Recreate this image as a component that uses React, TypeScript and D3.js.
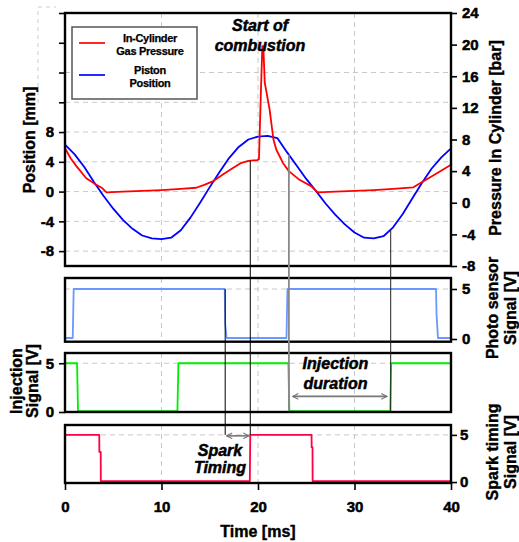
import React, { useEffect, useRef } from 'react';
import * as d3 from 'd3';

// axis ticks
const timeTicks = [0, 10, 20, 30, 40];
const posTicks = [-8, -4, 0, 4, 8, 12, 16, 20, 24];
const presTicks = [-8, -4, 0, 4, 8, 12, 16, 20, 24];
const signalTicks = [0, 5];

// piston position [mm]
const pistonTime = [0, 1, 2, 3, 4, 5, 6, 7, 8, 9, 10, 11, 12, 13, 14, 15, 16, 17, 18, 19, 20,
  21, 22, 23, 24, 25, 26, 27, 28, 29, 30, 31, 32, 33, 34, 35, 36, 37, 38, 39, 40];
const pistonPos = [6.3, 5.0, 3.3, 1.3, -0.6, -2.3, -3.8, -5.0, -5.9, -6.3, -6.4, -6.2, -5.2, -3.5, -1.5,
  0.6, 2.6, 4.5, 6.0, 7.0, 7.4, 7.5, 7.2, 5.3, 3.5, 1.7, 0.1, -1.6, -3.1, -4.4, -5.5, -6.2, -6.3,
  -6.0, -4.8, -3.0, -0.9, 1.2, 3.1, 4.6, 5.8];

// in-cylinder gas pressure [bar]
const pressureTime = [0, 0.6, 1.2, 2.2, 3.2, 3.8, 4.3, 6, 8, 10, 12, 13.6, 14.5, 15.3, 16.4, 17.4, 18.2,
  19.0, 19.9, 20.1, 20.3, 20.45, 20.55, 20.7, 21.2, 21.6, 21.9, 22.6, 23.2, 24.3, 25.5, 26.2, 28, 30,
  32, 34, 36.1, 37.1, 38.5, 40];
const pressureVal = [6.9, 5.6, 4.6, 3.1, 2.3, 1.9, 1.3, 1.4, 1.5, 1.6, 1.75, 1.9, 2.3, 2.7, 3.6, 4.4, 5.0,
  5.3, 5.4, 5.5, 14, 19.8, 19.8, 15.2, 11.8, 8.0, 6.7, 5.0, 4.0, 2.9, 2.1, 1.3, 1.4, 1.5, 1.6, 1.75,
  1.95, 2.7, 3.7, 4.8];

// photo sensor signal [V]
const photoTime = [0, 0.8, 0.9, 16.55, 16.6, 16.75, 22.95, 23.05, 38.45, 38.5, 38.65, 40];
const photoVal = [0.1, 0.1, 5, 5, 1.5, 0.1, 0.1, 5, 5, 2.5, 0.1, 0.1];

// injection signal [V]
const injTime = [0, 1.25, 1.35, 11.65, 11.75, 23.15, 23.25, 33.7, 33.8, 40];
const injVal = [5, 5, 0.1, 0.1, 5, 5, 0.1, 0.1, 5, 5];

// spark timing signal [V]
const sparkTime = [0, 3.55, 3.56, 3.7, 3.71, 19.15, 19.2, 25.55, 25.56, 25.65, 25.66, 40];
const sparkVal = [5, 5, 3.2, 3.2, 0.1, 0.1, 5, 5, 3.7, 3.7, 0.1, 0.1];

const FONT = '"Liberation Sans", Arial, sans-serif';

function valueAt(ts: number[], vs: number[], t: number) {
  const i = d3.bisectLeft(ts, t);
  if (i <= 0) return vs[0];
  if (i >= ts.length) return vs[vs.length - 1];
  const f = (t - ts[i - 1]) / (ts[i] - ts[i - 1]);
  return vs[i - 1] + f * (vs[i] - vs[i - 1]);
}

export default function App() {
  const ref = useRef<SVGSVGElement>(null);

  useEffect(() => {
    const svg = d3.select(ref.current);
    svg.selectAll('*').remove();

    const x = d3.scaleLinear().domain([0, 40]).range([65, 451]);
    const yPos = d3.scaleLinear().domain([-10, 24]).range([266, 13]);
    const yPres = d3.scaleLinear().domain([-8, 24]).range([266, 13]);
    const yPhoto = d3.scaleLinear().domain([-0.27, 6.1]).range([341.7, 278]);
    const yInj = d3.scaleLinear().domain([0, 6.05]).range([412, 353]);
    const ySpark = d3.scaleLinear().domain([-0.1, 6.05]).range([483, 425]);

    svg.append('rect').attr('width', 519).attr('height', 542).attr('fill', '#fff');

    // faint dashed frame remnant at the top left
    svg.append('path').attr('d', 'M38,103 V7 H56')
      .attr('fill', 'none').attr('stroke', '#ccc').attr('stroke-dasharray', '4,4');

    const defs = svg.append('defs');
    defs.append('marker')
      .attr('id', 'chev')
      .attr('viewBox', '0 0 10 10')
      .attr('refX', 9).attr('refY', 5)
      .attr('markerWidth', 7).attr('markerHeight', 7)
      .attr('markerUnits', 'userSpaceOnUse')
      .attr('orient', 'auto-start-reverse')
      .append('path')
      .attr('d', 'M1,1 L9,5 L1,9')
      .attr('fill', 'none').attr('stroke', '#777').attr('stroke-width', 1.6);

    const grid = (ys: d3.ScaleLinear<number, number>, hv: number[]) => {
      const [bottom, top] = ys.range();
      const g = svg.append('g')
        .attr('stroke', '#c8c8c8').attr('stroke-dasharray', '5,4').attr('stroke-width', 1);
      [10, 20, 30].forEach((t) => {
        g.append('line').attr('x1', x(t)).attr('x2', x(t)).attr('y1', top).attr('y2', bottom);
      });
      hv.forEach((v) => {
        g.append('line').attr('x1', x(0)).attr('x2', x(40)).attr('y1', ys(v)).attr('y2', ys(v));
      });
    };

    const curve = (ts: number[], vs: number[], ys: d3.ScaleLinear<number, number>, color: string, w = 1.8) => {
      const line = d3.line<[number, number]>().x((d) => x(d[0])).y((d) => ys(d[1]));
      svg.append('path')
        .datum(d3.zip(ts, vs) as [number, number][])
        .attr('d', line)
        .attr('fill', 'none')
        .attr('stroke', color)
        .attr('stroke-width', w)
        .attr('stroke-linejoin', 'round');
    };

    const box = (ys: d3.ScaleLinear<number, number>) => {
      const [bottom, top] = ys.range();
      svg.append('rect')
        .attr('x', x(0)).attr('y', top)
        .attr('width', x(40) - x(0)).attr('height', bottom - top)
        .attr('fill', 'none').attr('stroke', '#000').attr('stroke-width', 2.4);
    };

    const styleAxis = (g: d3.Selection<SVGGElement, unknown, null, undefined>) => {
      g.select('.domain').remove();
      g.attr('font-family', FONT).attr('font-size', 15).attr('font-weight', 'bold');
      g.selectAll('line').attr('stroke', '#000').attr('stroke-width', 1.6);
      g.selectAll('text').attr('fill', '#000').attr('stroke', '#000').attr('stroke-width', 0.5);
    };

    // main panel
    grid(yPos, [-8, -4, 0, 4, 8, 12, 16]);
    curve(pistonTime, pistonPos, yPos, '#0000ff');
    curve(pressureTime, pressureVal, yPres, '#ff0000');
    box(yPos);
    svg.append('g').attr('transform', `translate(${x(0)},0)`)
      .call(d3.axisLeft(yPos).tickValues(posTicks).tickSize(6).tickPadding(5)
        .tickFormat((d) => (Math.abs(+d) <= 8 ? String(d) : '')))
      .call(styleAxis);
    svg.append('g').attr('transform', `translate(${x(40)},0)`)
      .call(d3.axisRight(yPres).tickValues(presTicks).tickSize(6).tickPadding(5)
        .tickFormat((d) => String(d)))
      .call(styleAxis);

    // photo sensor panel
    grid(yPhoto, [5]);
    curve(photoTime, photoVal, yPhoto, '#6a98ff');
    box(yPhoto);
    svg.append('g').attr('transform', `translate(${x(40)},0)`)
      .call(d3.axisRight(yPhoto).tickValues(signalTicks).tickSize(6).tickPadding(5)
        .tickFormat((d) => String(d)))
      .call(styleAxis);

    // injection panel
    grid(yInj, [5]);
    curve(injTime, injVal, yInj, '#00ee00');
    box(yInj);
    svg.append('g').attr('transform', `translate(${x(0)},0)`)
      .call(d3.axisLeft(yInj).tickValues(signalTicks).tickSize(6).tickPadding(5)
        .tickFormat((d) => String(d)))
      .call(styleAxis);

    // spark timing panel
    grid(ySpark, [5]);
    curve(sparkTime, sparkVal, ySpark, '#ff0040');
    box(ySpark);
    svg.append('g').attr('transform', `translate(${x(40)},0)`)
      .call(d3.axisRight(ySpark).tickValues(signalTicks).tickSize(6).tickPadding(3)
        .tickFormat((d) => String(d)))
      .call(styleAxis);
    svg.append('g').attr('transform', `translate(0,${ySpark(-0.1)})`)
      .call(d3.axisBottom(x).tickValues(timeTicks).tickSize(7).tickPadding(11)
        .tickFormat((d) => String(d)))
      .call(styleAxis);

    // vertical guide lines
    const guides = [
      { t: 16.6, y1: yPhoto(5), y2: ySpark(5), c: '#000', w: 1 },
      { t: 19.2, y1: yPres(valueAt(pressureTime, pressureVal, 19.2)), y2: ySpark(5), c: '#000', w: 1 },
      { t: 23.2, y1: yPos(valueAt(pistonTime, pistonPos, 23.2)), y2: yInj(0.1), c: '#888', w: 1.8 },
      { t: 33.75, y1: yPos(valueAt(pistonTime, pistonPos, 33.75)), y2: yInj(0.1), c: '#222', w: 1 },
    ];
    guides.forEach((g) => {
      svg.append('line')
        .attr('x1', x(g.t)).attr('x2', x(g.t))
        .attr('y1', g.y1).attr('y2', g.y2)
        .attr('stroke', g.c).attr('stroke-width', g.w);
    });

    // double arrows
    const arrow = (t1: number, t2: number, y: number) => {
      svg.append('line')
        .attr('x1', x(t1)).attr('x2', x(t2)).attr('y1', y).attr('y2', y)
        .attr('stroke', '#777').attr('stroke-width', 1.6)
        .attr('marker-start', 'url(#chev)').attr('marker-end', 'url(#chev)');
    };
    arrow(23.6, 33.35, yInj(1.6));
    arrow(16.75, 19.05, ySpark(4.9));

    // annotations
    const note = (lines: string[], cx: number, ys: number[]) => {
      lines.forEach((s, i) => {
        svg.append('text')
          .attr('x', cx).attr('y', ys[i])
          .attr('text-anchor', 'middle')
          .attr('font-family', FONT).attr('font-size', 16)
          .attr('font-weight', 'bold').attr('font-style', 'italic')
          .attr('stroke', '#000').attr('stroke-width', 0.5)
          .text(s);
      });
    };
    note(['Start of', 'combustion'], 260, [31, 51]);
    note(['Injection', 'duration'], 335.5, [369, 389]);
    note(['Spark', 'Timing'], 220, [456, 473]);

    // axis titles
    const title = (s: string, tx: number, ty: number, rot: boolean) => {
      svg.append('text')
        .attr('transform', `translate(${tx},${ty})${rot ? ' rotate(-90)' : ''}`)
        .attr('text-anchor', 'middle')
        .attr('font-family', FONT).attr('font-size', 16).attr('font-weight', 'bold')
        .attr('stroke', '#000').attr('stroke-width', 0.4)
        .text(s);
    };
    title('Position [mm]', 35, 140, true);
    title('Pressure In Cylinder [bar]', 501, 138, true);
    title('Photo sensor', 498, 308, true);
    title('Signal [V]', 516, 308, true);
    title('Injection', 22, 381, true);
    title('Signal [V]', 38, 381, true);
    title('Spark timing', 498, 452, true);
    title('Signal [V]', 516, 452, true);
    title('Time [ms]', 258, 537, false);

    // legend
    const lg = svg.append('g');
    lg.append('rect').attr('x', 72).attr('y', 27).attr('width', 125).attr('height', 72)
      .attr('fill', '#fff').attr('stroke', '#555').attr('stroke-width', 1.5);
    const entries = [
      { c: '#ff0000', ly: 43, text: ['In-Cylinder', 'Gas Pressure'], ty: [42, 55] },
      { c: '#0000ff', ly: 75, text: ['Piston', 'Position'], ty: [74, 87] },
    ];
    entries.forEach((e) => {
      lg.append('line').attr('x1', 79).attr('x2', 105).attr('y1', e.ly).attr('y2', e.ly)
        .attr('stroke', e.c).attr('stroke-width', 1.7);
      e.text.forEach((s, i) => {
        lg.append('text').attr('x', 150).attr('y', e.ty[i])
          .attr('text-anchor', 'middle')
          .attr('font-family', FONT).attr('font-size', 11).attr('font-weight', 'bold')
          .attr('letter-spacing', -0.3)
          .attr('stroke', '#000').attr('stroke-width', 0.25)
          .text(s);
      });
    });
  }, []);

  return (
    <svg
      ref={ref}
      width={519}
      height={542}
      style={{ position: 'absolute', left: 0, top: 0, display: 'block' }}
    />
  );
}
